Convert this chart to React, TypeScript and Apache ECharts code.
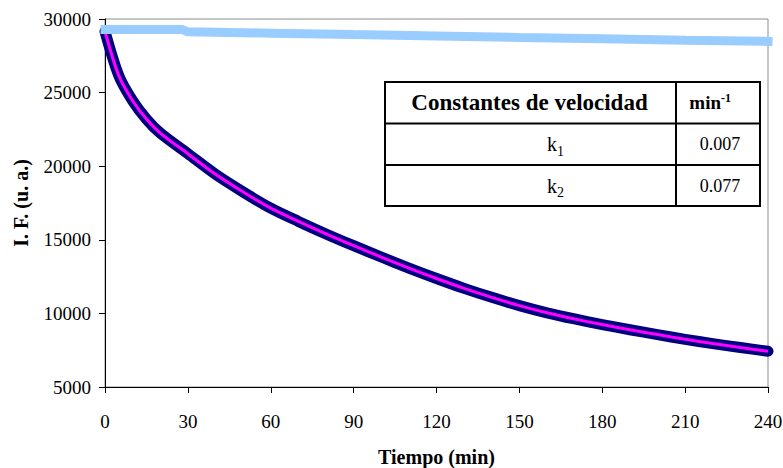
import React, { useEffect, useRef } from "react";
import * as echarts from "echarts";

// Tiempo (min) at which the fluorescence was read
const tiempo = [0, 5, 10, 15, 20, 30, 40, 50, 60, 70, 80, 90, 100, 110, 120, 130, 140, 150, 160, 170, 180, 190, 200, 210, 220, 230, 240];
// Decaying sample: measured intensity (the fitted curve follows the same values)
const intensidadMuestra = [29150, 26150, 24450, 23200, 22250, 20850, 19450, 18250, 17150, 16250, 15400, 14600, 13830, 13080, 12370, 11700, 11090, 10530, 10040, 9620, 9240, 8890, 8560, 8240, 7950, 7680, 7430];

// Reference (control) trace
const tiempoControl = [0, 28, 30, 60, 90, 120, 150, 180, 210, 240];
const intensidadControl = [29290, 29280, 29130, 29040, 28940, 28850, 28750, 28660, 28560, 28480];

const yTicks = { min: 5000, max: 30000, step: 5000 };
const xTicks = { min: 0, max: 240, step: 30 };

const tablaCabecera = ["Constantes de velocidad", "min", "-1"];
const constantes = [
  { nombre: "k", sub: "1", valor: "0.007" },
  { nombre: "k", sub: "2", valor: "0.077" },
];

const SERIF = '"Liberation Serif", "Times New Roman", "DejaVu Serif", serif';

export default function App() {
  const ref = useRef<HTMLDivElement>(null);

  useEffect(() => {
    document.body.style.margin = "0";
    if (!ref.current) return;
    const chart = echarts.init(ref.current, null, { renderer: "svg" });

    const muestra = tiempo.map((t, i) => [t, intensidadMuestra[i]]);
    const control = tiempoControl.map((t, i) => [t, intensidadControl[i]]);

    // table geometry (pixels)
    const tx0 = 385, tx1 = 760, tcol = 676;
    const ty0 = 82, ty1 = 123.5, ty2 = 165, ty3 = 206;
    const c1 = (tx0 + tcol) / 2;
    const c2 = (tcol + tx1) / 2;

    const rowTexts: any[] = [];
    constantes.forEach((c, i) => {
      const yMid = i === 0 ? (ty1 + ty2) / 2 : (ty2 + ty3) / 2;
      rowTexts.push(
        {
          type: "text",
          x: 557,
          y: yMid,
          style: { text: c.nombre, font: `20px ${SERIF}`, fill: "#000", align: "right", verticalAlign: "middle" },
        },
        {
          type: "text",
          x: 557,
          y: yMid + 7,
          style: { text: c.sub, font: `14px ${SERIF}`, fill: "#000", align: "left", verticalAlign: "middle" },
        },
        {
          type: "text",
          x: c2 + 2,
          y: yMid,
          style: { text: c.valor, font: `18px ${SERIF}`, fill: "#000", align: "center", verticalAlign: "middle" },
        }
      );
    });

    const option: any = {
      animation: false,
      backgroundColor: "#fff",
      grid: {
        left: 105,
        right: 15,
        top: 19,
        bottom: 81,
        show: true,
        borderColor: "#8c8c8c",
        borderWidth: 1,
        containLabel: false,
        outerBoundsMode: "none",
      },
      xAxis: {
        type: "value",
        min: xTicks.min,
        max: xTicks.max,
        interval: xTicks.step,
        name: "Tiempo (min)",
        nameLocation: "middle",
        nameGap: 60,
        nameTextStyle: { fontFamily: SERIF, fontWeight: "bold", fontSize: 20, color: "#000" },
        axisLine: { show: true, onZero: false, lineStyle: { color: "#000", width: 1 } },
        axisTick: { show: true, inside: false, length: 6, lineStyle: { color: "#000" } },
        axisLabel: { fontFamily: SERIF, fontSize: 19, color: "#000", margin: 25, formatter: (v: number) => String(v) },
        splitLine: { show: false },
      },
      yAxis: {
        type: "value",
        min: yTicks.min,
        max: yTicks.max,
        interval: yTicks.step,
        name: "I. F. (u. a.)",
        nameLocation: "middle",
        nameGap: 74,
        nameTextStyle: { fontFamily: SERIF, fontWeight: "bold", fontSize: 20, color: "#000" },
        axisLine: { show: true, onZero: false, lineStyle: { color: "#000", width: 1 } },
        axisTick: { show: true, inside: false, length: 6, lineStyle: { color: "#000" } },
        axisLabel: { fontFamily: SERIF, fontSize: 19, color: "#000", margin: 14, formatter: (v: number) => String(v) },
        splitLine: { show: false },
      },
      series: [
        {
          name: "muestra",
          type: "line",
          data: muestra,
          showSymbol: false,
          smooth: 0.3,
          clip: false,
          z: 2,
          lineStyle: { color: "#000080", width: 11, cap: "round", join: "round" },
        },
        {
          name: "ajuste",
          type: "line",
          data: muestra,
          showSymbol: false,
          smooth: 0.3,
          clip: false,
          z: 3,
          lineStyle: { color: "#ff00ff", width: 3 },
        },
        {
          name: "control",
          type: "line",
          data: control,
          showSymbol: false,
          clip: false,
          z: 4,
          lineStyle: { color: "#99ccff", width: 9, cap: "square" },
        },
      ],
      graphic: [
        {
          type: "group",
          z: 10,
          children: [
            { type: "rect", shape: { x: tx0, y: ty0, width: tx1 - tx0, height: ty3 - ty0 }, style: { fill: "#fff", stroke: "#000", lineWidth: 2 } },
            { type: "line", shape: { x1: tx0, y1: ty1, x2: tx1, y2: ty1 }, style: { stroke: "#000", lineWidth: 2 } },
            { type: "line", shape: { x1: tx0, y1: ty2, x2: tx1, y2: ty2 }, style: { stroke: "#000", lineWidth: 2 } },
            { type: "line", shape: { x1: tcol, y1: ty0, x2: tcol, y2: ty3 }, style: { stroke: "#000", lineWidth: 2 } },
            {
              type: "text",
              x: c1 - 1,
              y: (ty0 + ty1) / 2,
              style: { text: tablaCabecera[0], font: `bold 23px ${SERIF}`, fill: "#000", align: "center", verticalAlign: "middle" },
            },
            {
              type: "text",
              x: c2 + 3,
              y: (ty0 + ty1) / 2,
              style: { text: tablaCabecera[1], font: `bold 19px ${SERIF}`, fill: "#000", align: "right", verticalAlign: "middle" },
            },
            {
              type: "text",
              x: c2 + 3,
              y: (ty0 + ty1) / 2 - 5,
              style: { text: tablaCabecera[2], font: `bold 12px ${SERIF}`, fill: "#000", align: "left", verticalAlign: "middle" },
            },
            ...rowTexts,
          ],
        },
      ],
    };

    chart.setOption(option);
    return () => chart.dispose();
  }, []);

  return <div ref={ref} style={{ width: 783, height: 468 }} />;
}
